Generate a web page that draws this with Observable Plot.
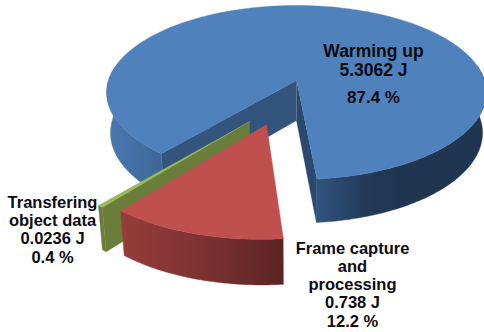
<!DOCTYPE html>
<html>
<head>
<meta charset="utf-8">
<script src="https://cdn.jsdelivr.net/npm/d3@7"></script>
<script src="https://cdn.jsdelivr.net/npm/@observablehq/plot@0.6"></script>
<style>
  html, body { margin: 0; padding: 0; background: #fff; }
  svg { display: block; }
</style>
</head>
<body>
<div id="chart"></div>
<script>
// Energy used by each stage of one sensing cycle
const stages = ["Warming up", "Frame capture\nand\nprocessing", "Transfering\nobject data"];
const joules = [5.3062, 0.738, 0.0236];
const percents = [87.4, 12.2, 0.4];

// Exploded offset of each wedge on the disc plane (across, toward the viewer)
const pulls = [[0, 0], [-0.149, 0.48], [-0.234, 0.45]];

// Perspective tilt of the disc and thickness of the pie, in y-scale units
const tilt = 0.138;
const thickness = 0.468;
const thicknessGrowth = 0.55;
const floorShrink = 0.98;

const deg = Math.PI / 180;
const wedges = d3.pie().sort(null).startAngle(220 * deg).endAngle(580 * deg)(percents);

// Disc coordinates to plot coordinates, on the top face or on the bottom face
function project(u, v, bottom = false) {
  const s = 1 / (1 - tilt * v);
  return bottom
    ? [u * s * floorShrink, v * s + thickness * (1 + thicknessGrowth * (s - 1))]
    : [u * s, v * s];
}
const rim = (i, a, bottom) => {
  const [ox, oy] = pulls[i];
  return project(ox + Math.sin(a), oy - Math.cos(a), bottom);
};
const hub = (i, bottom) => project(pulls[i][0], pulls[i][1], bottom);
const arc = (i, a0, a1, bottom) => {
  const n = Math.max(2, Math.ceil(Math.abs(a1 - a0) / deg));
  return d3.range(n + 1).map(k => rim(i, a0 + (a1 - a0) * k / n, bottom));
};

const face = (i) => [hub(i), ...arc(i, wedges[i].startAngle, wedges[i].endAngle)];
const wall = (i, a0, a1) => [...arc(i, a0, a1), ...arc(i, a1, a0, true)];
const cut = (i, a) => [hub(i), rim(i, a), rim(i, a, true), hub(i, true)];

const shape = (points, fill) =>
  Plot.line(points, {x: d => d[0], y: d => d[1], fill, stroke: fill, strokeWidth: 0.4});

// Side shading runs left to right along each outer wall
const ramp = (id, x1, x2, stops) =>
  `<linearGradient id="${id}" gradientUnits="userSpaceOnUse" x1="${x1}" x2="${x2}" y1="0" y2="0">` +
  stops.map(([o, c]) => `<stop offset="${o}" stop-color="${c}"/>`).join("") +
  `</linearGradient>`;
const gradients = () => d3.create("svg:defs").html(
  ramp("blue-left", 105, 162, [[0, "#4a79b2"], [1, "#3c6797"]]) +
  ramp("blue-right", 317, 400, [[0, "#31537e"], [0.6, "#223a58"], [1, "#20354f"]]) +
  ramp("red-wall", 123, 285, [[0, "#963c3a"], [0.5, "#7b3231"], [1, "#5b2423"]])
).node();

const [blue, red, green] = wedges;
const label = (text, dx, dy, fontSize = 16.5) =>
  Plot.text([text], {
    text: d => d, frameAnchor: "top-left", dx, dy,
    textAnchor: "middle", lineAnchor: "middle", lineHeight: 1.1,
    fontFamily: "Liberation Sans", fontWeight: "bold", fontSize, fill: "#0b0b12"
  });

const chart = Plot.plot({
  width: 484,
  height: 332,
  margin: 0,
  style: {background: "#fff", overflow: "hidden"},
  x: {domain: [-296 / 188, 188 / 188], range: [0, 484], axis: null},
  y: {domain: [-80 / 85.4, 252 / 85.4], range: [0, 332], axis: null},
  marks: [
    gradients,
    // Warming up
    shape(cut(0, blue.startAngle), "#33547d"),
    shape(cut(0, blue.endAngle), "#2b496e"),
    shape(wall(0, blue.startAngle, 280 * deg), "url(#blue-left)"),
    shape(wall(0, 440 * deg, blue.endAngle), "url(#blue-right)"),
    shape(face(0), "#4f81bd"),
    // Transfering object data
    shape(cut(2, green.startAngle), "#6a7d3b"),
    shape(wall(2, green.startAngle, green.endAngle), "#6a7d3b"),
    shape(face(2), "#9bbb59"),
    // Frame capture and processing
    shape(wall(1, red.startAngle, red.endAngle), "url(#red-wall)"),
    shape(face(1), "#c0504d"),
    // Labels
    label(`${stages[0]}\n${joules[0]} J`, 373, 59.5, 17.5),
    label(`${percents[0]} %`, 373, 97, 17),
    label(`${stages[1]}\n${joules[1]} J\n${percents[1]} %`, 352, 284),
    label(`${stages[2]}\n${joules[2]} J\n${percents[2]} %`, 52, 229)
  ]
});
document.getElementById("chart").append(chart);
</script>
</body>
</html>
